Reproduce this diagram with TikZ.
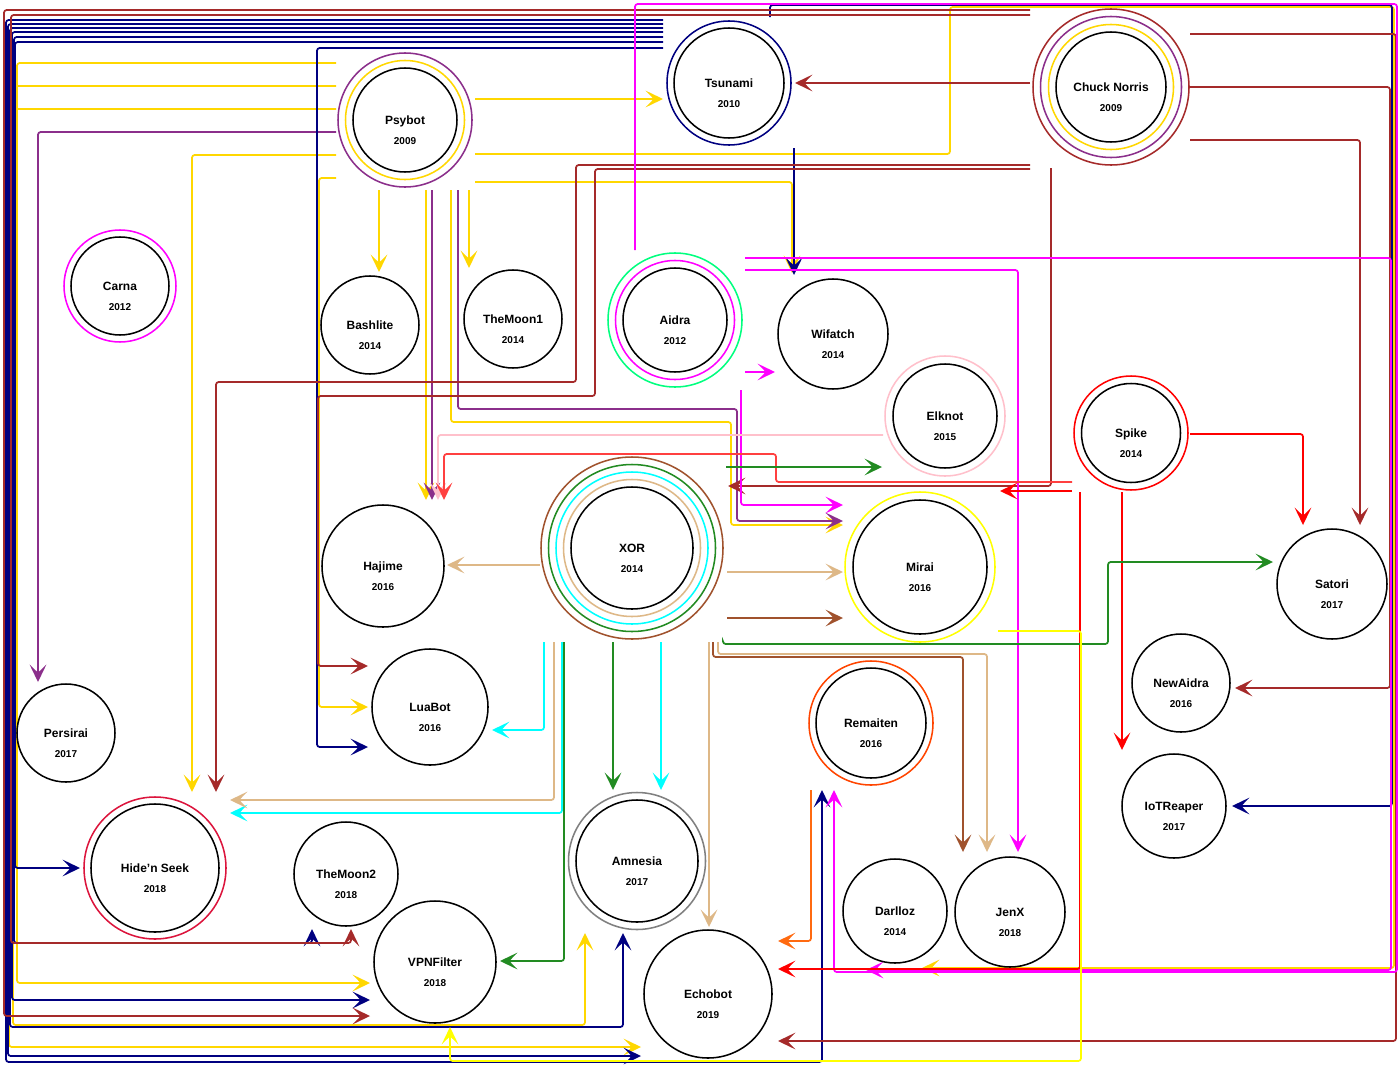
\documentclass[tikz,border=0pt]{standalone}
\usepackage{fontspec}
\setmainfont{Liberation Sans}
\usetikzlibrary{arrows.meta}
\definecolor{gold}{HTML}{FFD700}
\definecolor{yelm}{HTML}{FFFF00}
\definecolor{purp}{HTML}{8B2F8B}
\definecolor{navyc}{HTML}{000080}
\definecolor{brownc}{HTML}{A52A2A}
\definecolor{mag}{HTML}{FF00FF}
\definecolor{sgreen}{HTML}{00FF7F}
\definecolor{pinkc}{HTML}{FFC0CB}
\definecolor{redc}{HTML}{FF0000}
\definecolor{fgreen}{HTML}{228B22}
\definecolor{cyanc}{HTML}{00FFFF}
\definecolor{burly}{HTML}{DEB887}
\definecolor{siennac}{HTML}{A0522D}
\definecolor{ored}{HTML}{FF4500}
\definecolor{crim}{HTML}{DC143C}
\definecolor{grayc}{HTML}{808080}
\definecolor{orangec}{HTML}{FF6A10}
\newcommand\mwnode[6]{%
  \node[bot=#4] (#1) at (#2,#3) {};
  \node[lbl] (#1-t) at (#2,#3+10) {#5\\{\fontsize{7.5}{15}\selectfont #6}};}
\begin{document}
\begin{tikzpicture}[x=0.75pt,y=-0.75pt,
  bot/.style={circle,draw=black,line width=1.15pt,minimum size=#1*1.5pt,inner sep=0pt},
  ring/.style={line width=1.15pt},
  lbl/.style={align=center,font=\fontsize{9}{15}\selectfont\bfseries},
  l/.style={line width=1.3pt,rounded corners=2pt},
  e/.style={l,-{Stealth[length=13pt,width=12.5pt,inset=6pt]}}]
\fill[white] (0,0) rectangle (1399,1067);
\useasboundingbox (0,0) rectangle (1399,1067);

% ---------------- connectors ----------------
% Psybot (gold / purple)
\draw[e,gold] (475,99) -- (663,99);
\draw[e,gold] (475,154) -- (950,154) -- (950,7) -- (1394,7) -- (1394,968) -- (922,968);
\draw[e,gold] (475,182) -- (792,182) -- (792,273);
\draw[e,gold] (336,63) -- (17,63) -- (17,983) -- (370,983);
\draw[e,gold] (336,86) -- (13,86) -- (13,1025) -- (585,1025) -- (585,933);
\draw[e,gold] (336,109) -- (9,109) -- (9,1047) -- (641,1047);
\draw[e,gold] (336,155) -- (192,155) -- (192,792);
\draw[e,gold] (336,178) -- (319,178) -- (319,707) -- (368,707);
\draw[e,gold] (379,190) -- (379,272);
\draw[e,gold] (469,190) -- (469,268);
\draw[e,gold] (426,190) -- (426,500);
\draw[e,gold] (451,190) -- (451,422) -- (731,422) -- (731,525) -- (843,525);
\draw[e,purp] (432,190) -- (432,500);
\draw[e,purp] (458,190) -- (458,409) -- (737,409) -- (737,521) -- (843,521);
\draw[e,purp] (336,132) -- (38,132) -- (38,682);

% Tsunami (navy)
\draw[e,navyc] (663,48) -- (317,48) -- (317,747) -- (368,747);
\draw[e,navyc] (794,148) -- (794,275);
\draw[e,navyc] (770,17) -- (770,5) -- (1392,5) -- (1392,806) -- (1232,806);
\draw[e,navyc] (663,20) -- (6,20) -- (6,1062) -- (822,1062) -- (822,790);
\draw[e,navyc] (663,24) -- (8,24) -- (8,1056) -- (641,1056);
\draw[e,navyc] (663,28) -- (10,28) -- (10,1027) -- (623,1027) -- (623,933);
\draw[e,navyc] (663,32) -- (12,32) -- (12,1000) -- (370,1000);
\draw[e,navyc] (663,37) -- (14,37) -- (14,943) -- (312,943) -- (312,929);
\draw[e,navyc] (663,42) -- (15,42) -- (15,868) -- (80,868);

% Chuck Norris (brown)
\draw[e,brownc] (1030,83) -- (795,83);
\draw[e,brownc] (1030,10) -- (4,10) -- (4,1016) -- (370,1016);
\draw[e,brownc] (1030,15) -- (11,15) -- (11,943) -- (351,943) -- (351,929);
\draw[e,brownc] (1030,165) -- (576,165) -- (576,382) -- (216,382) -- (216,792);
\draw[e,brownc] (1030,169) -- (595,169) -- (595,396) -- (318,396) -- (318,666) -- (368,666);
\draw[e,brownc] (1190,34) -- (1396,34) -- (1396,1041) -- (778,1041);
\draw[e,brownc] (1190,87) -- (1390,87) -- (1390,688) -- (1235,688);
\draw[e,brownc] (1190,140) -- (1360,140) -- (1360,525);
\draw[e,brownc] (1051,168) -- (1051,486) -- (728,486);

% Aidra (magenta)
\draw[e,mag] (635,250) -- (635,4) -- (1397,4) -- (1397,972) -- (834,972) -- (834,790);
\draw[e,mag] (745,258) -- (1391,258) -- (1391,970) -- (866,970);
\draw[e,mag] (745,270) -- (1018,270) -- (1018,852);
\draw[e,mag] (745,372) -- (775,372);
\draw[e,mag] (741,390) -- (741,505) -- (843,505);

% Elknot (pink)
\draw[e,pinkc] (883,435) -- (438,435) -- (438,500);

% Spike (red)
\draw[e,redc] (1190,434) -- (1303,434) -- (1303,525);
\draw[e,redc!75] (1072,482) -- (776,482) -- (776,454) -- (444,454) -- (444,500);
\draw[e,redc] (1072,491) -- (1000,491);
\draw[e,redc] (1122,492) -- (1122,750);
\draw[e,redc] (1080,492) -- (1080,969) -- (778,969);

% XOR
\draw[e,fgreen] (726,467) -- (882,467);
\draw[e,fgreen] (723,642) -- (723,644) -- (1108,644) -- (1108,562) -- (1273,562);
\draw[e,fgreen] (613,642) -- (613,790);
\draw[e,fgreen] (564,642) -- (564,961) -- (500,961);
\draw[e,cyanc] (544,642) -- (544,730) -- (492,730);
\draw[e,cyanc] (661,642) -- (661,790);
\draw[e,cyanc] (562,642) -- (562,813) -- (230,813);
\draw[e,burly] (540,565) -- (447,565);
\draw[e,burly] (727,572) -- (843,572);
\draw[e,burly] (554,642) -- (554,800) -- (230,800);
\draw[e,burly] (709,642) -- (709,927);
\draw[e,burly] (718,642) -- (718,654) -- (987,654) -- (987,852);
\draw[e,siennac] (727,618) -- (843,618);
\draw[e,siennac] (713,642) -- (713,657) -- (963,657) -- (963,852);

% Remaiten (orange)
\draw[e,orangec] (811,790) -- (811,941) -- (778,941);

% Mirai (yellow)
\draw[e,yelm] (998,631) -- (1081,631) -- (1081,1061) -- (450,1061) -- (450,1027);

% ---------------- nodes ----------------
\mwnode{psy}{405}{120}{52}{Psybot}{2009}
\draw[ring,gold] (psy.center) circle[radius=59.5];
\draw[ring,purp] (psy.center) circle[radius=67];

\mwnode{tsu}{729}{83}{55}{Tsunami}{2010}
\draw[ring,navyc] (tsu.center) circle[radius=62];

\mwnode{chu}{1111}{87}{55}{Chuck Norris}{2009}
\draw[ring,gold] (chu.center) circle[radius=62.5];
\draw[ring,purp] (chu.center) circle[radius=70.5];
\draw[ring,brownc] (chu.center) circle[radius=78];

\mwnode{car}{120}{286}{49}{Carna}{2012}
\draw[ring,mag] (car.center) circle[radius=56];

\mwnode{bas}{370}{325}{49}{Bashlite}{2014}
\mwnode{tm1}{513}{319}{49}{TheMoon1}{2014}

\mwnode{aid}{675}{320}{52}{Aidra}{2012}
\draw[ring,mag] (aid.center) circle[radius=59.5];
\draw[ring,sgreen] (aid.center) circle[radius=67];

\mwnode{wif}{833}{334}{55}{Wifatch}{2014}

\mwnode{elk}{945}{416}{52}{Elknot}{2015}
\draw[ring,pinkc] (elk.center) circle[radius=60];

\mwnode{spi}{1131}{433}{49.5}{Spike}{2014}
\draw[ring,redc] (spi.center) circle[radius=57];

\mwnode{sat}{1332}{584}{55}{Satori}{2017}
\mwnode{haj}{383}{566}{61}{Hajime}{2016}

\mwnode{xor}{632}{548}{61}{XOR}{2014}
\draw[ring,burly] (xor.center) circle[radius=68.5];
\draw[ring,cyanc] (xor.center) circle[radius=76];
\draw[ring,fgreen] (xor.center) circle[radius=83.5];
\draw[ring,siennac] (xor.center) circle[radius=91];

\mwnode{mir}{920}{567}{67}{Mirai}{2016}
\draw[ring,yelm] (mir.center) circle[radius=75];

\mwnode{lua}{430}{707}{58}{LuaBot}{2016}
\mwnode{per}{66}{733}{49}{Persirai}{2017}
\mwnode{nai}{1181}{683}{49}{NewAidra}{2016}

\mwnode{rem}{871}{723}{55}{Remaiten}{2016}
\draw[ring,ored] (rem.center) circle[radius=62];

\mwnode{iot}{1174}{806}{52}{IoTReaper}{2017}

\mwnode{hid}{155}{868}{64}{Hide{\char"27}n Seek}{2018}
\draw[ring,crim] (hid.center) circle[radius=71];

\mwnode{tm2}{346}{874}{52}{TheMoon2}{2018}

\mwnode{amn}{637}{861}{61}{Amnesia}{2017}
\draw[ring,grayc] (amn.center) circle[radius=68.5];

\mwnode{vpn}{435}{962}{61}{VPNFilter}{2018}
\mwnode{dar}{895}{911}{52}{Darlloz}{2014}
\mwnode{jen}{1010}{912}{55}{JenX}{2018}
\mwnode{ech}{708}{994}{64}{Echobot}{2019}
\end{tikzpicture}
\end{document}
